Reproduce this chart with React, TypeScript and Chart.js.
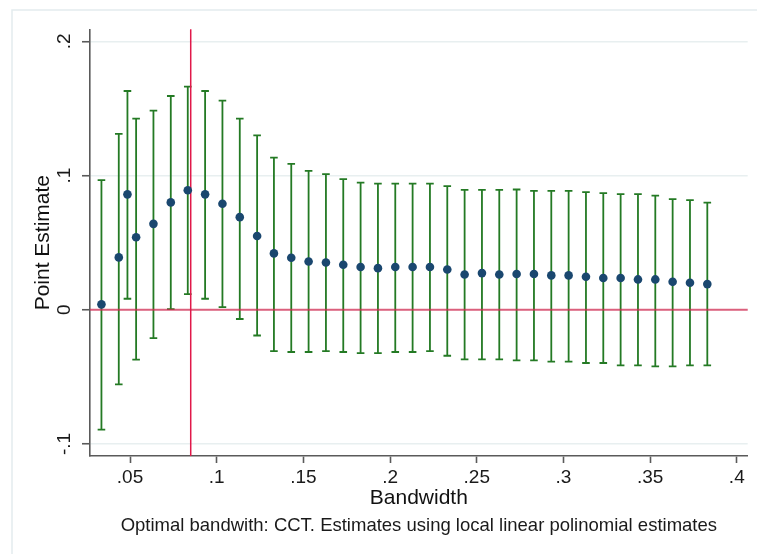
import React, { useEffect, useRef } from "react";
import { Chart, registerables } from "chart.js";

Chart.register(...registerables);

// Bandwidths at which the local linear estimate was computed
const BANDWIDTH = [
  0.0335, 0.0435, 0.0485, 0.0535, 0.0635, 0.0735, 0.0833, 0.0933, 0.1033, 0.1133,
  0.1233, 0.133, 0.143, 0.153, 0.163, 0.173, 0.183, 0.193, 0.203, 0.213,
  0.223, 0.233, 0.243, 0.253, 0.263, 0.273, 0.283, 0.293, 0.303, 0.313,
  0.323, 0.333, 0.343, 0.353, 0.363, 0.373, 0.383,
];

// Point estimates
const ESTIMATE = [
  0.004, 0.039, 0.086, 0.054, 0.064, 0.080, 0.089, 0.086, 0.079, 0.069,
  0.055, 0.042, 0.0387, 0.036, 0.0352, 0.0335, 0.0318, 0.031, 0.0318, 0.0318,
  0.0318, 0.030, 0.0263, 0.0273, 0.0263, 0.0266, 0.0266, 0.0256, 0.0256, 0.0246,
  0.0236, 0.0236, 0.0226, 0.0226, 0.0208, 0.0201, 0.0191,
];

// Confidence interval bounds
const CI_LOW = [
  -0.0894, -0.0556, 0.0082, -0.0372, -0.0211, 0.0005, 0.0117, 0.0082, 0.002, -0.0069,
  -0.0192, -0.0308, -0.0315, -0.0315, -0.0308, -0.0315, -0.0323, -0.0323, -0.0315, -0.0315,
  -0.0308, -0.0343, -0.037, -0.037, -0.037, -0.0377, -0.0377, -0.0387, -0.0387, -0.0397,
  -0.0397, -0.0414, -0.0414, -0.0422, -0.0422, -0.0414, -0.0414,
];
const CI_HIGH = [
  0.0966, 0.131, 0.163, 0.1425, 0.1484, 0.1593, 0.1663, 0.163, 0.1559, 0.1425,
  0.130, 0.1134, 0.1087, 0.1035, 0.101, 0.0973, 0.0948, 0.094, 0.094, 0.094,
  0.094, 0.0921, 0.0894, 0.0894, 0.0894, 0.0896, 0.0886, 0.0886, 0.0886, 0.0876,
  0.0869, 0.0861, 0.0861, 0.0851, 0.0824, 0.0817, 0.0799,
];

const X_TICKS = [0.05, 0.1, 0.15, 0.2, 0.25, 0.3, 0.35, 0.4];
const X_TICK_LABELS = [".05", ".1", ".15", ".2", ".25", ".3", ".35", ".4"];
const Y_TICKS = [-0.1, 0, 0.1, 0.2];
const Y_TICK_LABELS = ["-.1", "0", ".1", ".2"];

const X_MIN = 0.0269;
const X_MAX = 0.4063;
const Y_MIN = -0.109;
const Y_MAX = 0.209;

// Optimal (CCT) bandwidth and the null effect line
const OPTIMAL_BW = 0.085;
const NULL_EFFECT = 0;

const FONT = "'Liberation Sans', Arial, Helvetica, sans-serif";
const NOTE = "Optimal bandwith: CCT. Estimates using local linear polinomial estimates";

const GREEN = "#247a24";
const NAVY = "#1a476f";
const AXIS = "#5a5a5a";

const backgroundFrame = {
  id: "backgroundFrame",
  beforeDraw(chart: any) {
    const { ctx, width, height } = chart;
    ctx.save();
    ctx.fillStyle = "#ffffff";
    ctx.fillRect(0, 0, width, height);
    ctx.strokeStyle = "#e3ecee";
    ctx.lineWidth = 1.5;
    ctx.strokeRect(12, 10, width + 20, height + 20);
    ctx.restore();
  },
};

const errorBars = {
  id: "errorBars",
  beforeDatasetsDraw(chart: any) {
    const { ctx, chartArea, scales } = chart;
    const x = scales.x;
    const y = scales.y;
    const cap = 3.8;
    ctx.save();
    ctx.strokeStyle = GREEN;
    ctx.lineWidth = 1.8;
    BANDWIDTH.forEach((b, i) => {
      const px = x.getPixelForValue(b);
      const lo = y.getPixelForValue(CI_LOW[i]);
      const hi = y.getPixelForValue(CI_HIGH[i]);
      ctx.beginPath();
      ctx.moveTo(px, lo);
      ctx.lineTo(px, hi);
      ctx.moveTo(px - cap, lo);
      ctx.lineTo(px + cap, lo);
      ctx.moveTo(px - cap, hi);
      ctx.lineTo(px + cap, hi);
      ctx.stroke();
    });

    // horizontal line at zero effect
    const y0 = y.getPixelForValue(NULL_EFFECT);
    ctx.strokeStyle = "rgba(214, 40, 80, 0.72)";
    ctx.lineWidth = 2;
    ctx.beginPath();
    ctx.moveTo(chartArea.left, y0);
    ctx.lineTo(chartArea.right, y0);
    ctx.stroke();

    // vertical line at the optimal bandwidth
    const xb = x.getPixelForValue(OPTIMAL_BW);
    ctx.strokeStyle = "#e0184a";
    ctx.lineWidth = 1.5;
    ctx.beginPath();
    ctx.moveTo(xb, chartArea.top);
    ctx.lineTo(xb, chartArea.bottom);
    ctx.stroke();
    ctx.restore();
  },
};

export default function App() {
  const canvasRef = useRef<HTMLCanvasElement | null>(null);

  useEffect(() => {
    const canvas = canvasRef.current;
    if (!canvas) return;

    const points = BANDWIDTH.map((b, i) => ({ x: b, y: ESTIMATE[i] }));

    const chart = new Chart(canvas, {
      type: "scatter",
      data: {
        datasets: [
          {
            label: "Point Estimate",
            data: points,
            pointRadius: 4.3,
            pointHoverRadius: 4.3,
            pointBackgroundColor: NAVY,
            pointBorderColor: NAVY,
            pointBorderWidth: 0,
            showLine: false,
          },
        ],
      },
      options: {
        responsive: false,
        animation: false,
        devicePixelRatio: 1,
        events: [],
        layout: { padding: { top: 29.3, right: 9.3, left: 0, bottom: 0 } },
        plugins: {
          legend: { display: false },
          tooltip: { enabled: false },
          subtitle: {
            display: true,
            position: "bottom",
            fullSize: false,
            text: NOTE,
            color: "#1a1a1a",
            font: { family: FONT, size: 18.5, weight: "normal" },
            padding: { top: 0, bottom: 17 },
          },
        },
        scales: {
          x: {
            type: "linear",
            min: X_MIN,
            max: X_MAX,
            afterBuildTicks: (scale: any) => {
              scale.ticks = X_TICKS.map((v) => ({ value: v }));
            },
            afterFit: (scale: any) => {
              scale.height = 58.8;
            },
            ticks: {
              autoSkip: false,
              maxRotation: 0,
              minRotation: 0,
              padding: 3,
              color: "#1a1a1a",
              font: { family: FONT, size: 19 },
              callback: (value: any) => X_TICK_LABELS[X_TICKS.indexOf(value)] ?? "",
            },
            grid: {
              drawOnChartArea: false,
              drawTicks: true,
              tickLength: 7,
              tickColor: AXIS,
              tickWidth: 1.6,
            },
            border: { display: true, color: AXIS, width: 1.6 },
            title: {
              display: true,
              text: "Bandwidth",
              color: "#111",
              font: { family: FONT, size: 21 },
              padding: { top: 0, bottom: 4.2 },
            },
          },
          y: {
            type: "linear",
            min: Y_MIN,
            max: Y_MAX,
            afterBuildTicks: (scale: any) => {
              scale.ticks = Y_TICKS.map((v) => ({ value: v }));
            },
            afterFit: (scale: any) => {
              scale.width = 90;
            },
            ticks: {
              autoSkip: false,
              minRotation: 90,
              maxRotation: 90,
              crossAlign: "center",
              padding: 6,
              color: "#1a1a1a",
              font: { family: FONT, size: 19 },
              callback: (value: any) => Y_TICK_LABELS[Y_TICKS.indexOf(value)] ?? "",
            },
            grid: {
              color: "#e8eff0",
              lineWidth: 1.5,
              drawTicks: true,
              tickLength: 8,
              tickColor: AXIS,
              tickWidth: 1.6,
            },
            border: { display: true, color: AXIS, width: 1.6 },
            title: {
              display: true,
              text: "Point Estimate",
              color: "#111",
              font: { family: FONT, size: 21 },
              padding: { top: 31, bottom: 0 },
            },
          },
        },
      },
      plugins: [backgroundFrame, errorBars],
    } as any);

    return () => {
      chart.destroy();
    };
  }, []);

  return (
    <div
      style={{
        position: "absolute",
        left: 0,
        top: 0,
        width: 757,
        height: 554,
        background: "#ffffff",
      }}
    >
      <canvas ref={canvasRef} width={757} height={554} style={{ display: "block" }} />
    </div>
  );
}
